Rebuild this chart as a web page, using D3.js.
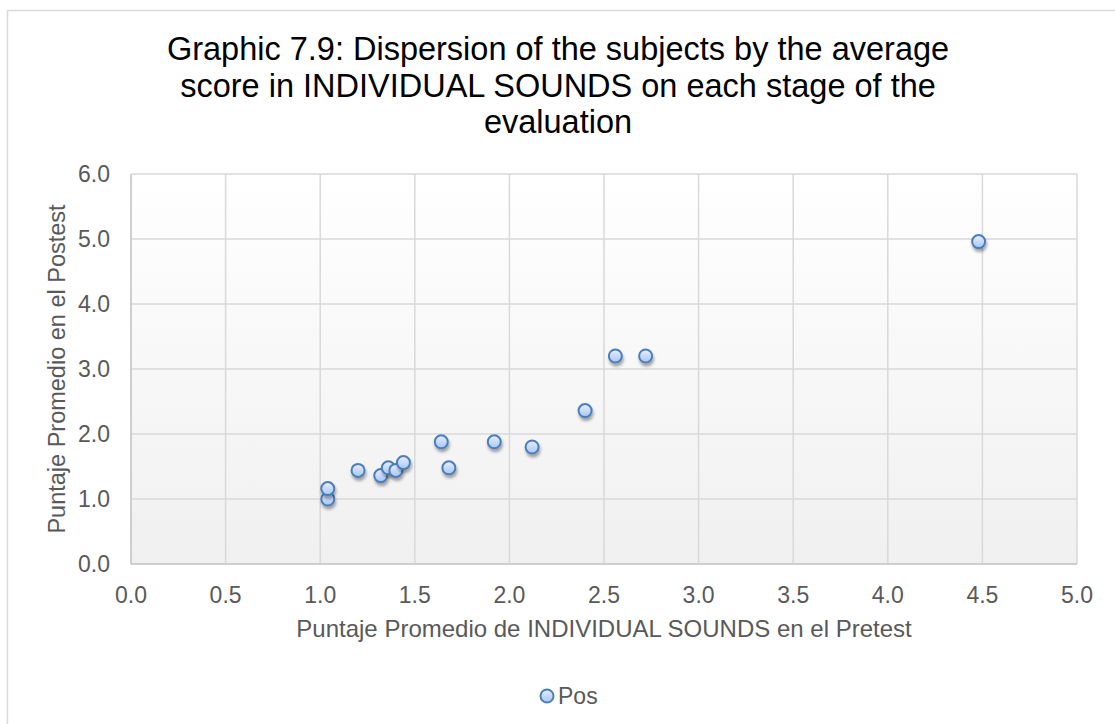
<html>
<head>
<meta charset="utf-8">
<style>
  body { margin: 0; background: #ffffff; }
  text { font-family: "Liberation Sans", Arial, sans-serif; }
</style>
</head>
<body>
<svg id="svg"></svg>
<script src="https://d3js.org/d3.v7.min.js"></script>
<script>

// values
const pretest = [1.04, 1.04, 1.20, 1.32, 1.36, 1.40, 1.44, 1.64, 1.68, 1.92, 2.12, 2.40, 2.56, 2.72, 4.48];
const postest = [1.00, 1.16, 1.44, 1.36, 1.48, 1.44, 1.56, 1.88, 1.48, 1.88, 1.80, 2.36, 3.20, 3.20, 4.96];
const xTicks = [0, 0.5, 1, 1.5, 2, 2.5, 3, 3.5, 4, 4.5, 5];
const yTicks = [0, 1, 2, 3, 4, 5, 6];
const titleLines = [
  "Graphic 7.9: Dispersion of the subjects by the average",
  "score in INDIVIDUAL SOUNDS on each stage of the",
  "evaluation"
];
const seriesName = "Pos";

const W = 1115, H = 724;
const plotL = 131, plotR = 1077, plotT = 174, plotB = 564;

const svg = d3.select("#svg").attr("width", W).attr("height", H);

const defs = svg.append("defs");
const bg = defs.append("linearGradient").attr("id", "bg").attr("x1", 0).attr("y1", 0).attr("x2", 0).attr("y2", 1);
bg.append("stop").attr("offset", "0%").attr("stop-color", "#ffffff");
bg.append("stop").attr("offset", "100%").attr("stop-color", "#f0f0f0");

const mk = defs.append("linearGradient").attr("id", "mk").attr("x1", 0).attr("y1", 0).attr("x2", 0).attr("y2", 1);
mk.append("stop").attr("offset", "0%").attr("stop-color", "#e6efff");
mk.append("stop").attr("offset", "100%").attr("stop-color", "#a9c5f5");

const sh = defs.append("filter").attr("id", "sh").attr("x", "-50%").attr("y", "-50%").attr("width", "200%").attr("height", "200%");
sh.append("feDropShadow").attr("dx", 1).attr("dy", 3).attr("stdDeviation", 1.6)
  .attr("flood-color", "#000").attr("flood-opacity", 0.35);

// outer chart border
svg.append("rect")
  .attr("x", 7.5).attr("y", 10.5).attr("width", W + 10).attr("height", H + 10)
  .attr("fill", "#fff").attr("stroke", "#d9d9d9").attr("stroke-width", 1.5);

const x = d3.scaleLinear().domain([0, 5]).range([plotL, plotR]);
const y = d3.scaleLinear().domain([0, 6]).range([plotB, plotT]);

svg.append("rect")
  .attr("x", plotL).attr("y", plotT).attr("width", plotR - plotL).attr("height", plotB - plotT)
  .attr("fill", "url(#bg)");

// gridlines
svg.append("g").selectAll("line").data(xTicks).join("line")
  .attr("x1", d => x(d)).attr("x2", d => x(d))
  .attr("y1", plotT).attr("y2", plotB)
  .attr("stroke", "#d9d9d9").attr("stroke-width", 1.5);
svg.append("g").selectAll("line").data(yTicks).join("line")
  .attr("x1", plotL).attr("x2", plotR)
  .attr("y1", d => y(d)).attr("y2", d => y(d))
  .attr("stroke", "#d9d9d9").attr("stroke-width", 1.5);

// axis lines
svg.append("line").attr("x1", plotL).attr("x2", plotL).attr("y1", plotT).attr("y2", plotB)
  .attr("stroke", "#c8c8c8").attr("stroke-width", 1.5);
svg.append("line").attr("x1", plotL).attr("x2", plotR).attr("y1", plotB).attr("y2", plotB)
  .attr("stroke", "#c8c8c8").attr("stroke-width", 1.5);

// tick labels
svg.append("g").selectAll("text").data(xTicks).join("text")
  .attr("x", d => x(d)).attr("y", 603)
  .attr("text-anchor", "middle").attr("font-size", 23).attr("fill", "#595959")
  .text(d => d.toFixed(1));
svg.append("g").selectAll("text").data(yTicks).join("text")
  .attr("x", 110).attr("y", d => y(d) + 8)
  .attr("text-anchor", "end").attr("font-size", 23).attr("fill", "#595959")
  .text(d => d.toFixed(1));

// axis titles
svg.append("text")
  .attr("x", (plotL + plotR) / 2).attr("y", 637)
  .attr("text-anchor", "middle").attr("font-size", 24).attr("fill", "#595959")
  .text("Puntaje Promedio de INDIVIDUAL SOUNDS en el Pretest");
svg.append("text")
  .attr("transform", `translate(65, ${(plotT + plotB) / 2}) rotate(-90)`)
  .attr("text-anchor", "middle").attr("font-size", 23.5).attr("fill", "#595959")
  .text("Puntaje Promedio en el Postest");

// title
svg.append("g").selectAll("text").data(titleLines).join("text")
  .attr("x", 558).attr("y", (d, i) => 60 + i * 36.5)
  .attr("text-anchor", "middle").attr("font-size", 32.5).attr("fill", "#000")
  .text(d => d);

// points
svg.append("g").selectAll("circle").data(pretest).join("circle")
  .attr("cx", d => x(d)).attr("cy", (d, i) => y(postest[i]))
  .attr("r", 6.5)
  .attr("fill", "url(#mk)").attr("stroke", "#4a7ebb").attr("stroke-width", 2)
  .attr("filter", "url(#sh)");

// legend
svg.append("circle").attr("cx", 547).attr("cy", 696).attr("r", 6.5)
  .attr("fill", "url(#mk)").attr("stroke", "#4a7ebb").attr("stroke-width", 2);
svg.append("text").attr("x", 558).attr("y", 704)
  .attr("font-size", 23).attr("fill", "#595959").text(seriesName);

</script>
</body>
</html>
